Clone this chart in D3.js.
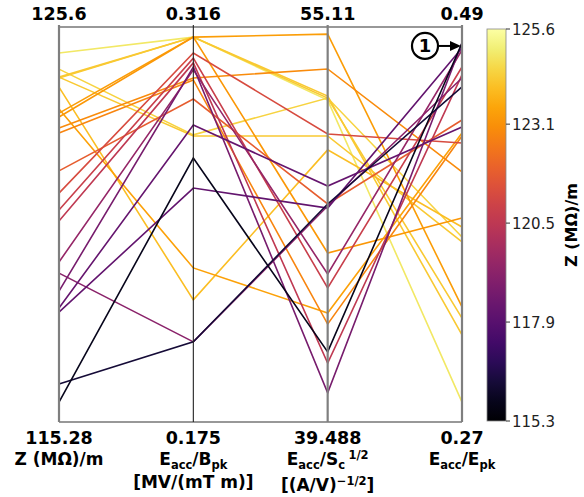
<!DOCTYPE html>
<html><head><meta charset="utf-8">
<script src="https://cdn.jsdelivr.net/npm/d3@7"></script>
<style>
body{margin:0;background:#fff;}
svg{display:block;}
text{font-family:"DejaVu Sans",sans-serif;}
</style>
</head><body>
<svg id="c" width="584" height="497"></svg>
<script>
// ---- data ----
const dims = ["Z", "EBpk", "ESc", "EEpk"];
const zValues = [124.92, 124.50, 124.29, 124.29, 124.27, 124.03, 123.46, 123.35, 123.25, 122.96, 122.83,
                 121.84, 121.26, 120.82, 120.53, 119.46, 119.17, 118.70, 118.26, 118.15, 116.27, 115.80];
const eBpkValues = [0.3124, 0.2775, 0.3124, 0.2771, 0.3124, 0.2186, 0.2300, 0.3124, 0.3124, 0.2978, 0.2971,
                    0.2903, 0.3067, 0.3049, 0.3032, 0.3007, 0.2036, 0.3017, 0.2810, 0.2585, 0.2036, 0.2692];
const eScValues = [52.22, 52.30, 52.38, 50.80, 52.30, 50.25, 43.80, 54.83, 46.17, 53.45, 43.36,
                   48.11, 50.88, 44.79, 41.82, 45.34, 48.03, 40.64, 48.82, 47.95, 48.11, 42.26];
const eEpkValues = [0.2811, 0.3730, 0.3185, 0.3703, 0.3279, 0.3786, 0.4310, 0.3341, 0.3836, 0.4093, 0.4293,
                    0.4382, 0.4254, 0.4677, 0.4633, 0.4772, 0.4616, 0.4811, 0.4343, 0.4783, 0.4566, 0.4811];
const axisMin = [115.28, 0.175, 39.488, 0.27];
const axisMax = [125.6, 0.316, 55.11, 0.49];
const minLabels = ["115.28", "0.175", "39.488", "0.27"];
const maxLabels = ["125.6", "0.316", "55.11", "0.49"];
const cbTicks = [115.3, 117.9, 120.5, 123.1, 125.6];
const cbTickLabels = ["115.3", "117.9", "120.5", "123.1", "125.6"];

const rows = zValues.map((z, i) => ({Z: z, EBpk: eBpkValues[i], ESc: eScValues[i], EEpk: eEpkValues[i]}));

// ---- layout ----
const svg = d3.select("#c");
const yTop = 27, yBot = 422;
const x = d3.scalePoint().domain(dims).range([59, 462]);
const y = {};
dims.forEach((d, i) => { y[d] = d3.scaleLinear().domain([axisMin[i], axisMax[i]]).range([yBot, yTop]); });
const color = d3.scaleSequential(d3.interpolateInferno).domain([115.28, 125.6]);

// frame
svg.append("line").attr("x1", 59).attr("x2", 462).attr("y1", yTop).attr("y2", yTop)
  .attr("stroke", "#333").attr("stroke-width", 1.2);
svg.append("line").attr("x1", 59).attr("x2", 462).attr("y1", yBot).attr("y2", yBot)
  .attr("stroke", "#333").attr("stroke-width", 1.2);

// lines
const line = d3.line().x(d => x(d.k)).y(d => y[d.k](d.v));
const order = rows.map((r, i) => i);
svg.append("g").selectAll("path").data(order).join("path")
  .attr("d", i => line(dims.map(k => ({k, v: rows[i][k]}))))
  .attr("fill", "none")
  .attr("stroke", i => color(rows[i].Z))
  .attr("stroke-width", 1.6)
  .attr("stroke-linejoin", "miter");

// axes vertical lines
const axStyle = [{c: "#7f7f7f", w: 2.2}, {c: "#222", w: 1.1}, {c: "#7f7f7f", w: 2.2}, {c: "#7f7f7f", w: 2.2}];
dims.forEach((d, i) => {
  svg.append("line").attr("x1", x(d)).attr("x2", x(d)).attr("y1", yTop - 2).attr("y2", yBot)
    .attr("stroke", axStyle[i].c).attr("stroke-width", axStyle[i].w);
});

// top / bottom value labels
dims.forEach((d, i) => {
  svg.append("text").attr("x", x(d)).attr("y", 20).attr("text-anchor", "middle")
    .attr("font-size", 17.5).attr("font-weight", "bold").text(maxLabels[i]);
  svg.append("text").attr("x", x(d)).attr("y", 444).attr("text-anchor", "middle")
    .attr("font-size", 17.5).attr("font-weight", "bold").text(minLabels[i]);
});

// axis names
function lbl(xp, yp, parts) {
  const t = svg.append("text").attr("x", xp).attr("y", yp).attr("text-anchor", "middle")
    .attr("font-size", 17).attr("font-weight", "bold");
  parts.forEach(p => {
    const s = t.append("tspan").text(p[0]);
    if (p[1] === "sub") s.attr("font-size", 11.5).attr("dy", 3.5);
    if (p[1] === "sup") s.attr("font-size", 11.5).attr("dy", -6);
    if (p[2]) s.attr("dy", p[2]);
  });
  return t;
}
lbl(x("Z"), 465, [["Z (MΩ)/m"]]);
lbl(x("EBpk"), 465, [["E"], ["acc", "sub"], ["/B", null, -3.5], ["pk", "sub"]]);
lbl(x("EBpk"), 488, [["[MV/(mT m)]"]]);
lbl(x("ESc"), 465, [["E"], ["acc", "sub"], ["/S", null, -3.5], ["c", "sub"], ["\u2009", null, -3.5], ["1/2", "sup"]]);
lbl(x("ESc"), 491, [["[(A/V)"], ["\u22121/2", "sup"], ["]", null, 6]]);
lbl(x("EEpk"), 465, [["E"], ["acc", "sub"], ["/E", null, -3.5], ["pk", "sub"]]);

// annotation (1) with arrow
const ax4 = x("EEpk");
const ay = y["EEpk"](0.4800);
svg.append("circle").attr("cx", ax4 - 37).attr("cy", ay + 1).attr("r", 13)
  .attr("fill", "#fff").attr("stroke", "#000").attr("stroke-width", 2.2);
svg.append("text").attr("x", ax4 - 37).attr("y", ay + 7.5).attr("text-anchor", "middle")
  .attr("font-size", 18).attr("font-weight", "bold").text("1");
svg.append("line").attr("x1", ax4 - 24).attr("x2", ax4 - 11).attr("y1", ay + 1).attr("y2", ay + 1)
  .attr("stroke", "#000").attr("stroke-width", 2);
svg.append("path").attr("d", `M${ax4 - 1},${ay + 1} L${ax4 - 12},${ay - 4} L${ax4 - 12},${ay + 6} Z`).attr("fill", "#000");

// colorbar
const cbX = 487, cbW = 19, cbTop = 29, cbBot = 421;
const defs = svg.append("defs");
const grad = defs.append("linearGradient").attr("id", "cbg").attr("x1", 0).attr("x2", 0).attr("y1", 1).attr("y2", 0);
d3.range(0, 1.0001, 0.05).forEach(t => {
  grad.append("stop").attr("offset", t).attr("stop-color", d3.interpolateInferno(t));
});
svg.append("rect").attr("x", cbX).attr("y", cbTop).attr("width", cbW).attr("height", cbBot - cbTop)
  .attr("fill", "url(#cbg)").attr("stroke", "#888").attr("stroke-width", 0.8);
const cy = d3.scaleLinear().domain([115.3, 125.6]).range([cbBot, cbTop]);
cbTicks.forEach((v, i) => {
  svg.append("line").attr("x1", cbX + cbW).attr("x2", cbX + cbW + 4).attr("y1", cy(v)).attr("y2", cy(v))
    .attr("stroke", "#333").attr("stroke-width", 1);
  svg.append("text").attr("x", cbX + cbW + 6).attr("y", cy(v) + 5.5).attr("font-size", 15)
    .attr("fill", "#222").text(cbTickLabels[i]);
});
svg.append("text").attr("transform", `translate(577,${(cbTop + cbBot) / 2}) rotate(-90)`)
  .attr("text-anchor", "middle").attr("font-size", 16).attr("font-weight", "bold").text("Z (MΩ)/m");
</script>
</body></html>
